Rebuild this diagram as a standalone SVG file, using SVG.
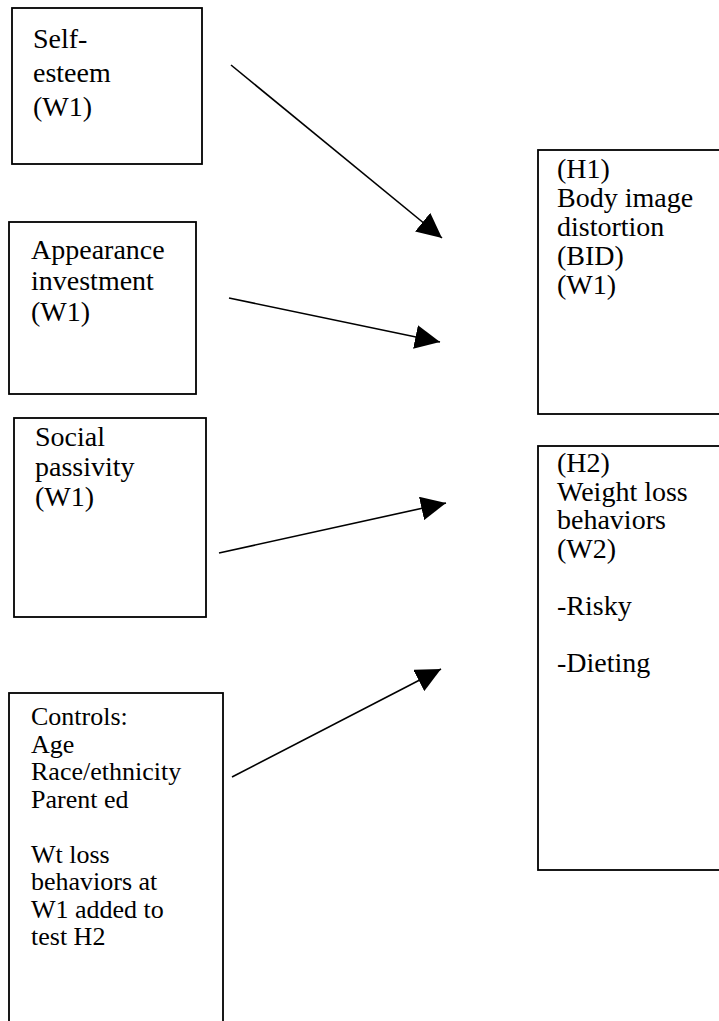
<svg xmlns="http://www.w3.org/2000/svg" width="719" height="1021" viewBox="0 0 719 1021">
  <style>
    .box { fill: #fff; stroke: #000; stroke-width: 1.8; }
    .lbl { font-family: "Liberation Serif", "Times New Roman", serif; font-size: 28px; fill: #000; }
    .sm { font-size: 26px; }
    .edge { stroke: #000; stroke-width: 1.6; fill: none; marker-end: url(#head); }
  </style>
  <defs>
    <marker id="head" markerUnits="userSpaceOnUse" markerWidth="27" markerHeight="24" refX="25" refY="12" orient="auto">
      <path d="M0,0 L25,12 L0,24 Z" fill="#000"/>
    </marker>
  </defs>
  <rect width="719" height="1021" fill="#fff"/>

  <g id="self-esteem">
    <rect class="box" x="12" y="8" width="190" height="156"/>
    <text class="lbl" x="33" y="48"><tspan x="33">Self-</tspan><tspan x="33" dy="34">esteem</tspan><tspan x="33" dy="34">(W1)</tspan></text>
  </g>

  <g id="appearance-investment">
    <rect class="box" x="9" y="222" width="187" height="172"/>
    <text class="lbl" x="31" y="259"><tspan x="31">Appearance</tspan><tspan x="31" dy="31">investment</tspan><tspan x="31" dy="31">(W1)</tspan></text>
  </g>

  <g id="social-passivity">
    <rect class="box" x="14" y="418" width="192" height="199"/>
    <text class="lbl" x="35" y="446"><tspan x="35">Social</tspan><tspan x="35" dy="30">passivity</tspan><tspan x="35" dy="30">(W1)</tspan></text>
  </g>

  <g id="controls">
    <rect class="box" x="9" y="693" width="214" height="340"/>
    <text class="lbl sm" x="31" y="725"><tspan x="31">Controls:</tspan><tspan x="31" dy="27.5">Age</tspan><tspan x="31" dy="27.5">Race/ethnicity</tspan><tspan x="31" dy="27.5">Parent ed</tspan><tspan x="31" dy="55">Wt loss</tspan><tspan x="31" dy="27.5">behaviors at</tspan><tspan x="31" dy="27.5">W1 added to</tspan><tspan x="31" dy="27.5">test H2</tspan></text>
  </g>

  <g id="h1-bid">
    <rect class="box" x="538" y="150" width="200" height="264"/>
    <text class="lbl" x="557" y="178"><tspan x="557">(H1)</tspan><tspan x="557" dy="29">Body image</tspan><tspan x="557" dy="29">distortion</tspan><tspan x="557" dy="29">(BID)</tspan><tspan x="557" dy="29">(W1)</tspan></text>
  </g>

  <g id="h2-weight-loss">
    <rect class="box" x="538" y="446" width="200" height="424"/>
    <text class="lbl" x="557" y="472"><tspan x="557">(H2)</tspan><tspan x="557" dy="28.5">Weight loss</tspan><tspan x="557" dy="28.5">behaviors</tspan><tspan x="557" dy="28.5">(W2)</tspan><tspan x="557" dy="57">-Risky</tspan><tspan x="557" dy="57">-Dieting</tspan></text>
  </g>

  <g id="connectors">
    <line class="edge" x1="231" y1="65" x2="442" y2="238"/>
    <line class="edge" x1="229" y1="298" x2="440" y2="342"/>
    <line class="edge" x1="219" y1="553" x2="446" y2="503"/>
    <line class="edge" x1="232" y1="777" x2="441" y2="669"/>
  </g>
</svg>
